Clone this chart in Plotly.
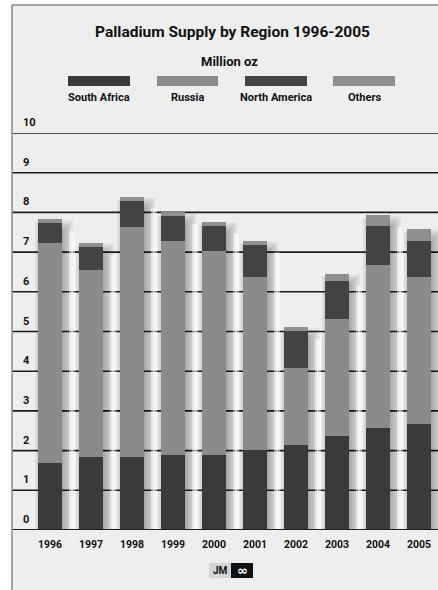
import plotly.graph_objects as go

# Palladium supply by region, million oz
years = [1996, 1997, 1998, 1999, 2000, 2001, 2002, 2003, 2004, 2005]
south_africa = [1.70, 1.84, 1.84, 1.88, 1.88, 2.02, 2.14, 2.36, 2.56, 2.66]
russia = [5.53, 4.71, 5.80, 5.41, 5.16, 4.35, 1.93, 2.96, 4.11, 3.71]
north_america = [0.51, 0.58, 0.65, 0.62, 0.63, 0.82, 0.94, 0.95, 1.00, 0.92]
others = [0.09, 0.10, 0.11, 0.09, 0.10, 0.10, 0.10, 0.19, 0.26, 0.30]
y_ticks = [0, 1, 2, 3, 4, 5, 6, 7, 8, 9, 10]

series_names = ["South Africa", "Russia", "North America", "Others"]
series_values = [south_africa, russia, north_america, others]
series_colors = ["#3a3a3a", "#8b8b8b", "#434343", "#8f8f8f"]

FONT = "Roboto, Liberation Sans, sans-serif"
W, H = 438, 590
M_L, M_R, M_T, M_B = 12, 0, 133, 60
BAR_W = 0.585
X0, X1 = 1995.073, 2005.463
PX = (X1 - X0) / (W - M_L - M_R)          # data units per horizontal pixel
PY = 10.0 / (H - M_T - M_B)              # data units per vertical pixel
pw = W - M_L - M_R
ph = H - M_T - M_B


def px_x(p):
    return (p - M_L) / pw


def px_y(p):
    return (H - M_B - p) / ph


fig = go.Figure()
for name, vals, col in zip(series_names, series_values, series_colors):
    fig.add_trace(go.Bar(
        x=years, y=vals, name=name, width=BAR_W,
        marker=dict(color=col, line=dict(width=0)),
        showlegend=False, hoverinfo="x+y+name",
    ))

totals = [sum(v) for v in zip(*series_values)]

shapes = []
# inner panel
shapes.append(dict(type="rect", xref="paper", yref="paper",
                   x0=0, x1=1.0, y0=px_y(H), y1=px_y(5),
                   fillcolor="#eeeeee", line=dict(width=0), layer="below"))

# soft drop shadows to the right of each bar, with a light sheen in the gap
for yr, tot in zip(years, totals):
    xr = yr + BAR_W / 2
    for s in (-5, -3, -1, 1, 3, 5):
        shapes.append(dict(type="rect", xref="x", yref="y",
                           x0=yr, x1=xr + (6 + s) * PX,
                           y0=0, y1=tot - (6 - s) * PY,
                           fillcolor="black", opacity=0.055,
                           line=dict(width=0), layer="below"))
    for a, b, op in ((7, 13, 0.45), (9, 11, 0.45)):
        shapes.append(dict(type="rect", xref="x", yref="y",
                           x0=xr + a * PX, x1=xr + b * PX, y0=0, y1=tot - 12 * PY,
                           fillcolor="white", opacity=op,
                           line=dict(width=0), layer="below"))
    # faint edge shading on the left of each bar
    xl = yr - BAR_W / 2
    for d in (1.5, 3):
        shapes.append(dict(type="rect", xref="x", yref="y",
                           x0=xl - d * PX, x1=xl, y0=0, y1=tot - 3 * PY,
                           fillcolor="black", opacity=0.06,
                           line=dict(width=0), layer="below"))

# horizontal grid lines
for v in y_ticks[1:]:
    shapes.append(dict(type="line", xref="paper", yref="y", x0=0, x1=1, y0=v, y1=v,
                       line=dict(color="#1c1c1c", width=1.6), layer="below"))
# base line
shapes.append(dict(type="line", xref="paper", yref="y", x0=0, x1=1, y0=0, y1=0,
                   line=dict(color="#1c1c1c", width=2), layer="above"))

# outer frame lines (left and top)
shapes.append(dict(type="line", xref="paper", yref="paper", x0=0, x1=0,
                   y0=px_y(H), y1=px_y(5), line=dict(color="#8a8a8a", width=1.5)))
shapes.append(dict(type="line", xref="paper", yref="paper", x0=0, x1=1,
                   y0=px_y(5), y1=px_y(5), line=dict(color="#8a8a8a", width=1.5)))

annotations = []

# legend swatches and labels
legend_px = [(68, 130), (157, 218), (245, 307), (333, 395)]
for (a, b), name, col in zip(legend_px, series_names, series_colors):
    shapes.append(dict(type="rect", xref="paper", yref="paper",
                       x0=px_x(a), x1=px_x(b), y0=px_y(86), y1=px_y(76),
                       fillcolor=col, line=dict(width=0)))
    annotations.append(dict(text=name, xref="paper", yref="paper",
                            x=px_x((a + b) / 2), y=px_y(97), xanchor="center", yanchor="middle",
                            showarrow=False, font=dict(family=FONT, size=11, color="#111111",
                                                       weight="bold")))

# y value labels above each grid line
for v in y_ticks:
    annotations.append(dict(text=str(v), xref="paper", yref="y", x=px_x(21), y=v,
                            xanchor="left", yanchor="bottom", yshift=2, showarrow=False,
                            font=dict(family=FONT, size=11, color="#111111", weight="bold")))

# title and unit
annotations.append(dict(text="Palladium Supply by Region 1996-2005", xref="paper", yref="paper",
                        x=px_x(232), y=px_y(32), xanchor="center", yanchor="middle",
                        showarrow=False,
                        font=dict(family=FONT, size=15.5, color="#111111", weight="bold")))
annotations.append(dict(text="Million oz", xref="paper", yref="paper",
                        x=px_x(229), y=px_y(61), xanchor="center", yanchor="middle",
                        showarrow=False,
                        font=dict(family=FONT, size=13, color="#111111", weight="bold")))

# small JM mark under the axis
shapes.append(dict(type="rect", xref="paper", yref="paper",
                   x0=px_x(209), x1=px_x(231), y0=px_y(578), y1=px_y(563),
                   fillcolor="#d4d4d4", line=dict(width=0)))
shapes.append(dict(type="rect", xref="paper", yref="paper",
                   x0=px_x(231), x1=px_x(253), y0=px_y(578), y1=px_y(563),
                   fillcolor="#111111", line=dict(width=0)))
annotations.append(dict(text="JM", xref="paper", yref="paper", x=px_x(220), y=px_y(570.5),
                        xanchor="center", yanchor="middle", showarrow=False,
                        font=dict(family=FONT, size=10, color="#111111", weight="bold")))
annotations.append(dict(text="\u221e", xref="paper", yref="paper", x=px_x(242), y=px_y(570.5),
                        xanchor="center", yanchor="middle", showarrow=False,
                        font=dict(family="DejaVu Sans", size=13, color="#ffffff", weight="bold")))

fig.update_layout(
    width=W, height=H,
    margin=dict(l=M_L, r=M_R, t=M_T, b=M_B, pad=0),
    barmode="stack", bargap=0,
    paper_bgcolor="#ffffff", plot_bgcolor="#eeeeee",
    showlegend=False,
    shapes=shapes, annotations=annotations,
    xaxis=dict(range=[X0, X1], tickmode="array", tickvals=years,
               ticktext=[str(y) for y in years], showgrid=False, zeroline=False,
               showline=False, ticks="", ticklabelstandoff=6,
               tickfont=dict(family=FONT, size=10.5, color="#111111", weight="bold"),
               fixedrange=True),
    yaxis=dict(range=[0, 10], showgrid=False, zeroline=False, showline=False,
               showticklabels=False, ticks="", fixedrange=True),
)

fig.write_html("out.html")
